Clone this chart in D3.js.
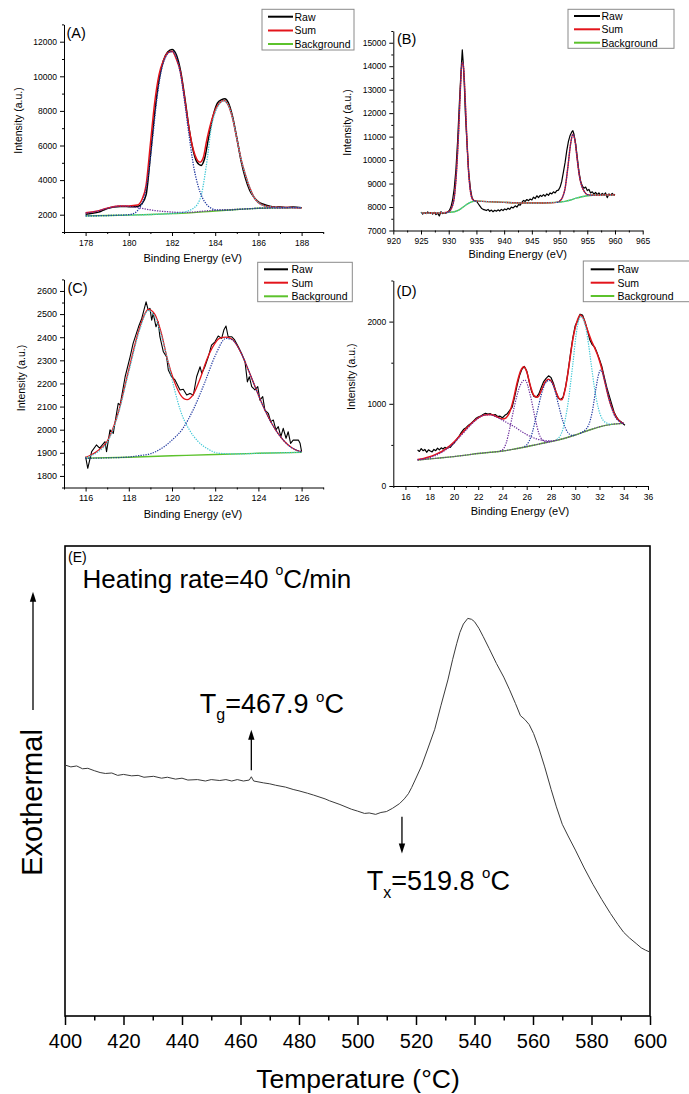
<!DOCTYPE html>
<html><head><meta charset="utf-8">
<script src="https://cdn.jsdelivr.net/npm/d3@7"></script>
<style>body{margin:0;background:#fff}svg{display:block}</style>
</head><body><svg id="c" width="689" height="1094"></svg>
<script>
// ---------------- DATA ----------------
const legendNames = ['Raw','Sum','Background'];

// Panel A (x: binding energy eV, y: intensity)
const rawA = [[178.0,2030],[178.3,2080],[178.6,2150],[178.8,2250],[179.0,2350],[179.3,2440],[179.6,2480],[179.9,2470],[180.2,2460],[180.4,2480],[180.6,2620],[180.8,3150],[181.0,5400],[181.2,7900],[181.4,9800],[181.6,10900],[181.8,11400],[182.0,11550],[182.2,11250],[182.4,10300],[182.6,8700],[182.8,6900],[183.0,5600],[183.15,5050],[183.35,4850],[183.5,5200],[183.7,6500],[183.9,7700],[184.1,8450],[184.3,8650],[184.45,8700],[184.6,8500],[184.8,7700],[185.0,6450],[185.2,5100],[185.4,4100],[185.6,3400],[185.8,3000],[186.0,2750],[186.2,2620],[186.4,2530],[186.6,2480],[186.8,2430],[187.0,2450],[187.3,2410],[187.6,2440],[188.0,2400]];
const sumA = [[178.0,2110],[178.5,2200],[179.0,2380],[179.5,2500],[180.0,2510],[180.4,2560],[180.6,2850],[180.8,3700],[181.0,6100],[181.2,8500],[181.4,10100],[181.6,10900],[181.8,11350],[182.0,11450],[182.2,11000],[182.4,10200],[182.6,8600],[182.8,6900],[183.0,5700],[183.15,5200],[183.3,5030],[183.45,5300],[183.6,6250],[183.8,7300],[184.0,8050],[184.2,8450],[184.4,8600],[184.6,8350],[184.8,7600],[185.0,6400],[185.2,5200],[185.4,4300],[185.6,3550],[185.8,3000],[186.0,2700],[186.3,2500],[186.6,2440],[187.0,2420],[187.5,2410],[188.0,2400]];
const bgA = [[178,1930],[179,1950],[180,1975],[181,2010],[182,2060],[183,2120],[184,2210],[185,2300],[186,2370],[187,2400],[188,2410]];
const pk1A = [[178,1932],[179,1952],[179.6,1975],[180.0,2000],[180.3,2120],[180.5,2400],[180.7,2950],[180.9,4300],[181.1,6400],[181.3,8700],[181.5,10300],[181.7,11100],[181.9,11400],[182.05,11420],[182.2,11100],[182.4,10100],[182.6,8400],[182.8,6500],[183.0,4800],[183.2,3700],[183.4,3000],[183.6,2600],[183.8,2380],[184.0,2280],[184.5,2260],[185.0,2300],[186,2370],[187,2400],[188,2410]];
const pk2A = [[178,1930],[180,1975],[182.0,2070],[182.4,2110],[182.7,2200],[183.0,2380],[183.2,2650],[183.37,3200],[183.5,4100],[183.65,5400],[183.8,6900],[184.0,7900],[184.2,8400],[184.4,8580],[184.6,8350],[184.8,7600],[185.0,6400],[185.2,5200],[185.4,4300],[185.6,3550],[185.8,3000],[186.0,2700],[186.3,2500],[186.6,2440],[187.0,2410],[188.0,2405]];
const pk3A = [[178.0,2090],[178.5,2190],[179.0,2370],[179.5,2490],[179.8,2500],[180.1,2470],[180.4,2420],[180.8,2320],[181.2,2240],[181.6,2190],[182.0,2150],[182.5,2130],[183.0,2150],[183.5,2210],[184,2260],[185,2310],[186,2370],[187,2400],[188,2410]];
const xTicksA = [178,180,182,184,186,188];
const yTicksA = [2000,4000,6000,8000,10000,12000];

// Panel B
const rawB = [[925.0,7780],[925.3,7700],[925.6,7760],[925.9,7720],[926.2,7790],[926.5,7730],[926.8,7760],[927.1,7700],[927.4,7770],[927.7,7680],[928.0,7740],[928.3,7620],[928.6,7800],[928.9,7720],[929.2,7760],[929.5,7740],[929.8,7790],[930.1,7850],[930.4,8000],[930.7,8300],[931.0,8800],[931.3,9600],[931.6,10800],[931.9,12300],[932.2,13700],[932.45,14700],[932.6,14200],[932.8,13300],[933.0,12000],[933.3,10700],[933.6,9500],[933.9,8800],[934.2,8400],[934.5,8280],[934.8,8260],[935.0,8250],[935.3,8150],[935.6,8050],[935.9,7950],[936.2,7900],[936.5,7880],[936.8,7850],[937.1,7900],[937.4,7820],[937.7,7870],[938.0,7800],[938.3,7860],[938.6,7820],[938.9,7880],[939.2,7830],[939.5,7900],[939.8,7850],[940.1,7920],[940.4,7880],[940.7,7950],[941.0,7900],[941.3,8000],[941.6,7960],[942.0,8050],[942.3,8000],[942.6,8100],[942.9,8080],[943.2,8200],[943.5,8280],[943.8,8240],[944.1,8320],[944.4,8270],[944.7,8340],[945.0,8300],[945.3,8420],[945.6,8360],[945.9,8480],[946.2,8400],[946.5,8500],[946.8,8450],[947.1,8530],[947.4,8460],[947.7,8560],[948.0,8500],[948.3,8600],[948.6,8560],[948.9,8650],[949.2,8600],[949.5,8700],[949.8,8720],[950.1,8850],[950.4,9100],[950.7,9500],[951.0,9900],[951.3,10400],[951.6,10800],[951.9,11050],[952.2,11200],[952.4,11250],[952.6,11100],[952.9,10700],[953.2,10100],[953.5,9500],[953.8,9100],[954.1,8900],[954.4,8800],[954.7,8850],[955.0,8700],[955.3,8750],[955.6,8600],[955.9,8650],[956.2,8550],[956.5,8620],[956.8,8530],[957.1,8600],[957.4,8500],[957.7,8580],[958.0,8520],[958.3,8600],[958.6,8400],[958.9,8560],[959.2,8500],[959.5,8580],[959.8,8510],[960.0,8540]];
const sumB = [[925,7740],[929,7755],[930,7790],[930.5,7950],[931,8400],[931.4,9500],[931.8,11300],[932.1,13000],[932.4,14150],[932.6,14100],[932.9,13000],[933.2,11300],[933.5,9800],[933.8,8900],[934.1,8450],[934.5,8280],[935,8250],[936,8240],[938,8220],[940,8200],[942,8180],[944,8170],[946,8170],[948,8180],[949.5,8200],[950,8250],[950.5,8400],[951,8800],[951.5,9700],[952,10700],[952.4,11100],[952.8,10800],[953.2,10000],[953.6,9300],[954,8900],[954.5,8650],[955,8530],[956,8500],[958,8510],[960,8510]];
const bgB = [[925,7740],[927,7745],[929,7755],[930,7770],[931,7800],[931.8,7870],[932.5,7980],[933.2,8100],[934,8210],[935,8250],[936,8240],[938,8220],[940,8200],[942,8180],[944,8170],[946,8170],[948,8180],[950,8210],[951,8240],[952,8300],[953,8380],[954,8440],[955,8480],[956,8500],[958,8510],[960,8510]];
const pk1B = [[929.5,7760],[930,7790],[930.5,7950],[931,8400],[931.4,9500],[931.8,11300],[932.1,13000],[932.4,14150],[932.6,14100],[932.9,13000],[933.2,11300],[933.5,9800],[933.8,8900],[934.1,8450],[934.5,8280],[935,8250]];
const pk2B = [[949.5,8200],[950,8250],[950.5,8400],[951,8800],[951.5,9700],[952,10700],[952.4,11100],[952.8,10800],[953.2,10000],[953.6,9300],[954,8900],[954.5,8650],[955,8530],[956,8500]];
const xTicksB = [920,925,930,935,940,945,950,955,960,965];
const yTicksB = [7000,8000,9000,10000,11000,12000,13000,14000,15000];

// Panel C
const rawC = [[116.0,1883],[116.1,1833],[116.28,1905],[116.5,1934],[116.65,1920],[116.9,1948],[116.97,1905],[117.13,1999],[117.28,1984],[117.51,2114],[117.6,2107],[117.83,2229],[118.06,2315],[118.2,2373],[118.45,2445],[118.6,2481],[118.8,2553],[118.9,2517],[118.98,2525],[119.06,2474],[119.13,2503],[119.26,2445],[119.36,2467],[119.44,2402],[119.6,2337],[119.75,2315],[119.83,2258],[119.98,2229],[120.14,2215],[120.37,2172],[120.52,2175],[120.68,2150],[120.83,2157],[120.99,2150],[121.14,2229],[121.3,2272],[121.38,2244],[121.52,2272],[121.68,2315],[121.83,2366],[121.99,2380],[122.14,2405],[122.3,2395],[122.4,2431],[122.5,2448],[122.6,2402],[122.76,2402],[122.9,2388],[123.07,2359],[123.22,2330],[123.38,2294],[123.49,2207],[123.58,2229],[123.69,2186],[123.84,2172],[123.97,2186],[124.07,2128],[124.2,2143],[124.3,2085],[124.46,2071],[124.57,2035],[124.69,2042],[124.81,1999],[124.92,2013],[125.04,1970],[125.15,2006],[125.28,1963],[125.38,1991],[125.49,1941],[125.61,1955],[125.85,1955],[125.93,1941],[126.0,1905]];
const sumC = [[116.0,1880],[116.5,1905],[117.0,1950],[117.5,2070],[118.0,2260],[118.5,2440],[118.9,2520],[119.2,2500],[119.5,2420],[119.8,2300],[120.1,2210],[120.4,2150],[120.7,2130],[121.0,2155],[121.3,2220],[121.6,2300],[121.9,2360],[122.2,2395],[122.5,2400],[122.8,2390],[123.1,2350],[123.4,2290],[123.7,2220],[124.0,2150],[124.3,2085],[124.6,2030],[124.9,1985],[125.2,1950],[125.5,1925],[125.8,1910],[126.0,1905]];
const bgC = [[116,1877],[118,1881],[120,1887],[122,1893],[124,1898],[126,1902]];
const pk1C = [[116.0,1878],[116.5,1900],[117.0,1945],[117.5,2065],[118.0,2250],[118.5,2430],[118.9,2515],[119.2,2490],[119.5,2410],[119.8,2300],[120.1,2180],[120.4,2080],[120.8,2000],[121.2,1950],[121.6,1920],[122.2,1898],[123,1895],[124,1898],[126,1902]];
const pk2C = [[116,1876],[117,1878],[118,1882],[118.5,1888],[119,1896],[119.5,1918],[120.0,1955],[120.5,2005],[121.0,2090],[121.5,2200],[122.0,2320],[122.5,2395],[122.8,2388],[123.1,2350],[123.4,2290],[123.7,2220],[124.0,2150],[124.3,2085],[124.6,2030],[124.9,1985],[125.2,1950],[125.5,1925],[125.8,1910],[126.0,1904]];
const xTicksC = [116,118,120,122,124,126];
const yTicksC = [1800,1900,2000,2100,2200,2300,2400,2500,2600];

// Panel D
const rawD = [[17.0,440],[17.15,420],[17.3,455],[17.45,430],[17.6,445],[17.75,410],[17.9,440],[18.05,425],[18.2,415],[18.35,445],[18.5,430],[18.65,460],[18.8,440],[18.95,465],[19.1,450],[19.25,470],[19.4,455],[19.55,480],[19.7,470],[19.85,500],[20.0,520],[20.2,560],[20.4,600],[20.6,650],[20.8,690],[21.0,710],[21.2,740],[21.4,760],[21.6,790],[21.8,820],[22.0,840],[22.2,850],[22.4,870],[22.6,885],[22.8,875],[23.0,880],[23.2,860],[23.4,870],[23.6,845],[23.8,850],[24.0,830],[24.2,860],[24.4,880],[24.6,920],[24.8,960],[25.0,1080],[25.2,1220],[25.4,1340],[25.6,1420],[25.8,1455],[26.0,1400],[26.2,1270],[26.4,1150],[26.6,1090],[26.8,1080],[27.0,1120],[27.2,1200],[27.4,1270],[27.6,1310],[27.8,1340],[28.0,1320],[28.2,1250],[28.4,1150],[28.6,1070],[28.8,1050],[29.0,1080],[29.2,1200],[29.4,1380],[29.6,1600],[29.8,1800],[30.0,1950],[30.2,2010],[30.4,2090],[30.6,2080],[30.8,2000],[31.0,1900],[31.2,1780],[31.4,1720],[31.6,1690],[31.8,1620],[32.0,1540],[32.2,1450],[32.4,1320],[32.6,1200],[32.8,1100],[33.0,1000],[33.2,900],[33.4,840],[33.6,800],[33.8,780],[34.0,750],[34.1,740]];
const sumD = [[17,322],[17.5,335],[18,355],[18.5,385],[19,420],[19.5,470],[20,535],[20.5,615],[21,695],[21.5,770],[22,830],[22.5,865],[23,870],[23.5,845],[24,815],[24.3,830],[24.6,900],[24.9,1050],[25.2,1250],[25.5,1400],[25.75,1450],[26.0,1390],[26.3,1220],[26.6,1100],[26.9,1080],[27.2,1160],[27.5,1260],[27.8,1300],[28.1,1260],[28.4,1150],[28.7,1060],[28.9,1050],[29.2,1200],[29.5,1480],[29.8,1780],[30.1,1980],[30.4,2080],[30.7,2030],[31.0,1900],[31.3,1780],[31.6,1680],[31.9,1570],[32.2,1420],[32.5,1230],[32.8,1050],[33.1,920],[33.4,830],[33.7,785],[34.0,760]];
const bgD = [[17,315],[18,330],[19,343],[20,358],[21,376],[22,396],[23,410],[24,425],[25,450],[26,478],[27,510],[28,540],[29,575],[30,620],[31,672],[32,720],[33,750],[34,762]];
const pk1D = [[17,320],[18,345],[19,410],[20,520],[20.5,600],[21,680],[21.5,760],[22,825],[22.5,862],[23,865],[23.5,840],[24,800],[24.5,760],[25,720],[25.5,670],[26,625],[26.5,590],[27,565],[27.5,552],[28,548],[28.5,560]];
const pk2D = [[23.8,428],[24.0,440],[24.3,520],[24.6,700],[25.0,980],[25.4,1200],[25.85,1290],[26.3,1100],[26.7,820],[27.0,640],[27.3,560],[27.6,540],[28,545]];
const pk3D = [[25.8,480],[26.0,500],[26.4,620],[26.8,860],[27.2,1110],[27.5,1240],[27.85,1285],[28.2,1220],[28.6,1000],[29.0,780],[29.4,650],[29.8,615],[30,620]];
const pk4D = [[28.5,565],[29.0,700],[29.4,1000],[29.8,1480],[30.1,1870],[30.45,2060],[30.8,1970],[31.0,1820],[31.3,1500],[31.6,1180],[31.9,950],[32.3,800],[32.7,760],[33.0,752]];
const pk5D = [[30.4,640],[30.8,680],[31.1,740],[31.4,900],[31.7,1180],[31.95,1370],[32.1,1410],[32.4,1300],[32.7,1110],[33.0,950],[33.3,840],[33.6,790],[34.0,762]];
const xTicksD = [16,18,20,22,24,26,28,30,32,34,36];
const yTicksD = [0,1000,2000];

// Panel E (DSC)
const dscE = [[400,53.4],[402,53.0],[404,53.2],[406,52.6],[407.8,52.7],[410,52.2],[412,51.8],[413.8,51.6],[416,51.7],[418,51.2],[420,51.4],[422.8,51.1],[425,51.2],[427,50.8],[430.3,51.0],[433,50.6],[435,50.8],[437.8,50.4],[440,50.6],[442,50.2],[445.3,50.3],[448,50.0],[450,50.3],[452.9,50.1],[455,50.3],[457,50.0],[458.9,50.3],[461,50.0],[463,50.2],[463.7,50.9],[464.5,50.0],[467.9,49.6],[470,49.4],[472,49.1],[475.4,48.7],[478,48.2],[480,47.9],[482.9,47.4],[485,47.0],[488.9,46.2],[490.4,45.8],[494,45.0],[497.9,44.0],[500,43.6],[502.4,43.1],[504,43.2],[506.2,42.9],[508,43.3],[509.9,43.5],[512,44.2],[514.4,45.2],[516,46.2],[517.4,47.3],[518.5,48.6],[519.7,50.2],[521.9,53.2],[524,56.8],[526.4,61.0],[528.5,66.0],[530.9,71.5],[532.5,75.8],[533.9,79.2],[535,81.6],[536.2,83.4],[537.7,84.6],[539,84.4],[540,83.9],[541.5,82.5],[543,80.7],[545,78.2],[547.5,75.0],[550,72.1],[552,69.4],[554,66.5],[555.7,63.9],[557.2,63.1],[558.7,62.0],[560.2,60.1],[562,57.0],[564,53.0],[566.2,48.2],[568,44.5],[570,40.8],[572,38.3],[574.5,35.3],[577.5,31.5],[580.5,28.0],[583.5,24.8],[586.5,21.8],[589,19.5],[591,17.8],[593,16.6],[595.5,15.3],[597,14.5],[598.5,14.0],[600,13.6]];
const xTicksE = [400,420,440,460,480,500,520,540,560,580,600];
const xMinorE = [410,430,450,470,490,510,530,550,570,590];
const tgArrow = {T:463.7, from:52.3, to:60.9};
const txArrow = {T:515.2, from:42.4, to:34.6};

// ---------------- DRAW ----------------
const FONT = '"Liberation Sans", Arial, Helvetica, sans-serif';
const svg = d3.select('#c');
const C = {raw:'#000', sum:'#e3141b', bg:'#5cc22c', cyan:'#40c8d6', navy:'#2038a0', purple:'#6b2c9c'};

function range(a,b,s){const r=[];for(let v=a;v<=b+1e-9;v+=s)r.push(+v.toFixed(4));return r;}

function panel(p){
  const x = d3.scaleLinear().domain(p.xd).range(p.xr);
  const y = d3.scaleLinear().domain(p.yd).range(p.yr);
  const g = svg.append('g');
  const yb = p.yr[0], xl = p.xr[0];
  const xMinor = range(p.xd[0],p.xd[1],p.xMinorStep).filter(v=>!p.xMajor.some(m=>Math.abs(m-v)<1e-6));
  const yMinor = range(p.yd[0],p.yd[1],p.yMinorStep).filter(v=>!p.yMajor.some(m=>Math.abs(m-v)<1e-6));
  g.append('g').attr('transform',`translate(0,${yb})`)
    .call(d3.axisBottom(x).tickValues(xMinor).tickSize(2).tickSizeOuter(0).tickFormat(''))
    .call(s=>s.select('.domain').remove());
  g.append('g').attr('transform',`translate(${xl},0)`)
    .call(d3.axisLeft(y).tickValues(yMinor).tickSize(2).tickSizeOuter(0).tickFormat(''))
    .call(s=>s.select('.domain').remove());
  g.append('g').attr('transform',`translate(0,${yb})`)
    .call(d3.axisBottom(x).tickValues(p.xMajor).tickSize(4).tickSizeOuter(0).tickPadding(3.5).tickFormat(d3.format('d')))
    .attr('font-size',p.fs).attr('font-family',FONT);
  g.append('g').attr('transform',`translate(${xl},0)`)
    .call(d3.axisLeft(y).tickValues(p.yMajor).tickSize(4).tickSizeOuter(0).tickPadding(3).tickFormat(d3.format('d')))
    .attr('font-size',p.fs).attr('font-family',FONT);
  g.selectAll('.domain,.tick line').attr('stroke','#000');
  g.append('text').attr('x',p.xt[0]).attr('y',p.xt[1]).attr('text-anchor','middle')
    .attr('font-family',FONT).attr('font-size',11).text('Binding Energy (eV)');
  g.append('text').attr('transform',`translate(${p.yt[0]},${p.yt[1]}) rotate(-90)`).attr('text-anchor','middle')
    .attr('font-family',FONT).attr('font-size',10.5).text('Intensity (a.u.)');
  g.append('text').attr('x',p.lab[0]).attr('y',p.lab[1]).attr('font-family',FONT).attr('font-size',14.5).text(p.label);
  return {x,y,g};
}
function ln(P, data, color, w, dash, curve){
  P.g.append('path').datum(data)
    .attr('d', d3.line().x(d=>P.x(d[0])).y(d=>P.y(d[1])).curve(curve||d3.curveLinear))
    .attr('fill','none').attr('stroke',color).attr('stroke-width',w)
    .attr('stroke-dasharray',dash||null).attr('stroke-linejoin','round');
}
function legend(L){
  svg.append('rect').attr('x',L.x0).attr('y',L.y0).attr('width',L.x1-L.x0).attr('height',L.y1-L.y0)
    .attr('fill','#fff').attr('stroke','#8a8a8a').attr('stroke-width',1);
  const cols=[C.raw,C.sum,C.bg];
  legendNames.forEach((n,i)=>{
    svg.append('line').attr('x1',L.lx0).attr('x2',L.lx1).attr('y1',L.rows[i]).attr('y2',L.rows[i])
      .attr('stroke',cols[i]).attr('stroke-width',2);
    svg.append('text').attr('x',L.tx).attr('y',L.rows[i]+3.8).attr('font-family',FONT).attr('font-size',10.5).text(n);
  });
}
const DOT='1.3 1.2', sm=d3.curveMonotoneX;

// A
const A = panel({xd:[177,189],xr:[64,323.2],yd:[1000,13000],yr:[232,24.4],xMajor:xTicksA,yMajor:yTicksA,
  xMinorStep:1,yMinorStep:1000,fs:8.5,xt:[192.7,262],yt:[22,120.5],lab:[66.5,38.3],label:'(A)'});
ln(A,bgA,C.bg,1.4,null,sm);
ln(A,rawA,C.raw,1.5,null,sm);
ln(A,sumA,C.sum,1.5,null,sm);
ln(A,pk3A,C.purple,1.3,DOT,sm);
ln(A,pk2A,C.cyan,1.3,DOT,sm);
ln(A,pk1A,C.navy,1.3,DOT,sm);
legend({x0:262,y0:9.3,x1:354,y1:50,lx0:268,lx1:293,tx:294.5,rows:[16.7,30.5,44]});

// B
const B = panel({xd:[920,965],xr:[393.3,642.7],yd:[7000,15500],yr:[230.5,31],xMajor:xTicksB,yMajor:yTicksB,
  xMinorStep:2.5,yMinorStep:500,fs:8.5,xt:[517.7,258.3],yt:[351,122.5],lab:[397,43.5],label:'(B)'});
ln(B,bgB,C.bg,1.4,null,sm);
ln(B,rawB,C.raw,1.2);
ln(B,sumB,C.sum,1.4,null,sm);
ln(B,bgB,C.cyan,1.2,DOT,sm);
ln(B,pk1B,C.navy,1.2,DOT,sm);
ln(B,pk2B,C.navy,1.2,DOT,sm);
legend({x0:568,y0:9.3,x1:674,y1:48.3,lx0:574,lx1:600,tx:601.5,rows:[16,29.3,42.7]});

// C
const Cp = panel({xd:[115,127],xr:[64,323.2],yd:[1750,2650],yr:[487.5,279.4],xMajor:xTicksC,yMajor:yTicksC,
  xMinorStep:1,yMinorStep:50,fs:9,xt:[193,517.5],yt:[24.5,378],lab:[67.5,293],label:'(C)'});
ln(Cp,bgC,C.bg,1.4,null,sm);
ln(Cp,rawC,C.raw,1.1);
ln(Cp,sumC,C.sum,1.3,null,sm);
ln(Cp,pk1C,C.cyan,1.2,DOT,sm);
ln(Cp,pk2C,C.navy,1.2,DOT,sm);
legend({x0:257.7,y0:262.3,x1:352.3,y1:301.7,lx0:264,lx1:288,tx:291.5,rows:[269.3,282.7,296.3]});

// D
const D = panel({xd:[15,36],xr:[393.3,648],yd:[0,2500],yr:[486,280.5],xMajor:xTicksD,yMajor:yTicksD,
  xMinorStep:1,yMinorStep:500,fs:8.5,xt:[520,514.5],yt:[355,376.7],lab:[396.5,295.5],label:'(D)'});
ln(D,bgD,C.bg,1.4,null,sm);
ln(D,rawD,C.raw,1.2);
ln(D,sumD,C.sum,1.5,null,sm);
ln(D,bgD,C.purple,1.2,DOT,sm);
ln(D,pk1D,C.purple,1.2,DOT,sm);
ln(D,pk2D,C.purple,1.2,DOT,sm);
ln(D,pk3D,C.navy,1.2,DOT,sm);
ln(D,pk4D,C.cyan,1.2,DOT,sm);
ln(D,pk5D,C.navy,1.2,DOT,sm);
legend({x0:583.3,y0:261,x1:693,y1:301.7,lx0:590.7,lx1:614.3,tx:617.5,rows:[269.3,282.7,296]});

// E
(function(){
  const x = d3.scaleLinear().domain([400,600]).range([65,650]);
  const y = d3.scaleLinear().domain([0,100]).range([1016,546]);
  const g = svg.append('g');
  g.append('g').attr('transform','translate(0,1016)')
    .call(d3.axisBottom(x).tickValues(xMinorE).tickSize(4.5).tickSizeOuter(0).tickFormat(''))
    .call(s=>s.select('.domain').remove());
  g.append('g').attr('transform','translate(0,1016)')
    .call(d3.axisBottom(x).tickValues(xTicksE).tickSize(9).tickSizeOuter(0).tickPadding(9).tickFormat(d3.format('d')))
    .attr('font-size',20).attr('font-family',FONT)
    .call(s=>s.select('.domain').remove());
  g.selectAll('.tick line').attr('stroke','#000').attr('stroke-width',1.5);
  g.append('rect').attr('x',65).attr('y',546).attr('width',585).attr('height',470)
    .attr('fill','none').attr('stroke','#000').attr('stroke-width',1.6);
  g.append('path').datum(dscE)
    .attr('d',d3.line().x(d=>x(d[0])).y(d=>y(d[1])))
    .attr('fill','none').attr('stroke','#3a3a3a').attr('stroke-width',1);

  function arrow(xp, yFrom, yTo){
    const dir = Math.sign(yTo-yFrom);
    g.append('line').attr('x1',xp).attr('x2',xp).attr('y1',yFrom).attr('y2',yTo-dir*8)
      .attr('stroke','#000').attr('stroke-width',1.3);
    g.append('path').attr('d',`M${xp},${yTo} L${xp-3.2},${yTo-dir*10} L${xp+3.2},${yTo-dir*10} Z`).attr('fill','#000');
  }
  arrow(x(tgArrow.T), y(tgArrow.from), y(tgArrow.to));
  arrow(x(txArrow.T), y(txArrow.from), y(txArrow.to));
  arrow(33, 710, 591.7);

  const t = (xx,yy,fs)=>g.append('text').attr('x',xx).attr('y',yy).attr('font-family',FONT).attr('font-size',fs);
  t(68,562,14).text('(E)');
  const h = t(82.6,588.3,26);
  h.append('tspan').text('Heating rate=40 ');
  h.append('tspan').attr('font-size',14).attr('dy',-13).text('o');
  h.append('tspan').attr('dy',13).text('C/min');

  const tg = t(199.8,713.3,27);
  tg.append('tspan').text('T');
  tg.append('tspan').attr('font-size',16).attr('dy',7).text('g');
  tg.append('tspan').attr('dy',-7).text('=467.9 ');
  tg.append('tspan').attr('font-size',15).attr('dy',-11).text('o');
  tg.append('tspan').attr('dy',11).text('C');

  const tx = t(366.7,890,27);
  tx.append('tspan').text('T');
  tx.append('tspan').attr('font-size',16).attr('dy',8).text('x');
  tx.append('tspan').attr('dy',-8).text('=519.8 ');
  tx.append('tspan').attr('font-size',15).attr('dy',-12).text('o');
  tx.append('tspan').attr('dy',12).text('C');

  g.append('text').attr('x',358).attr('y',1088.3).attr('text-anchor','middle')
    .attr('font-family',FONT).attr('font-size',26.5).text('Temperature (°C)');
  g.append('text').attr('transform','translate(41.5,802.5) rotate(-90)').attr('text-anchor','middle')
    .attr('font-family',FONT).attr('font-size',29).text('Exothermal');
})();
</script></body></html>
